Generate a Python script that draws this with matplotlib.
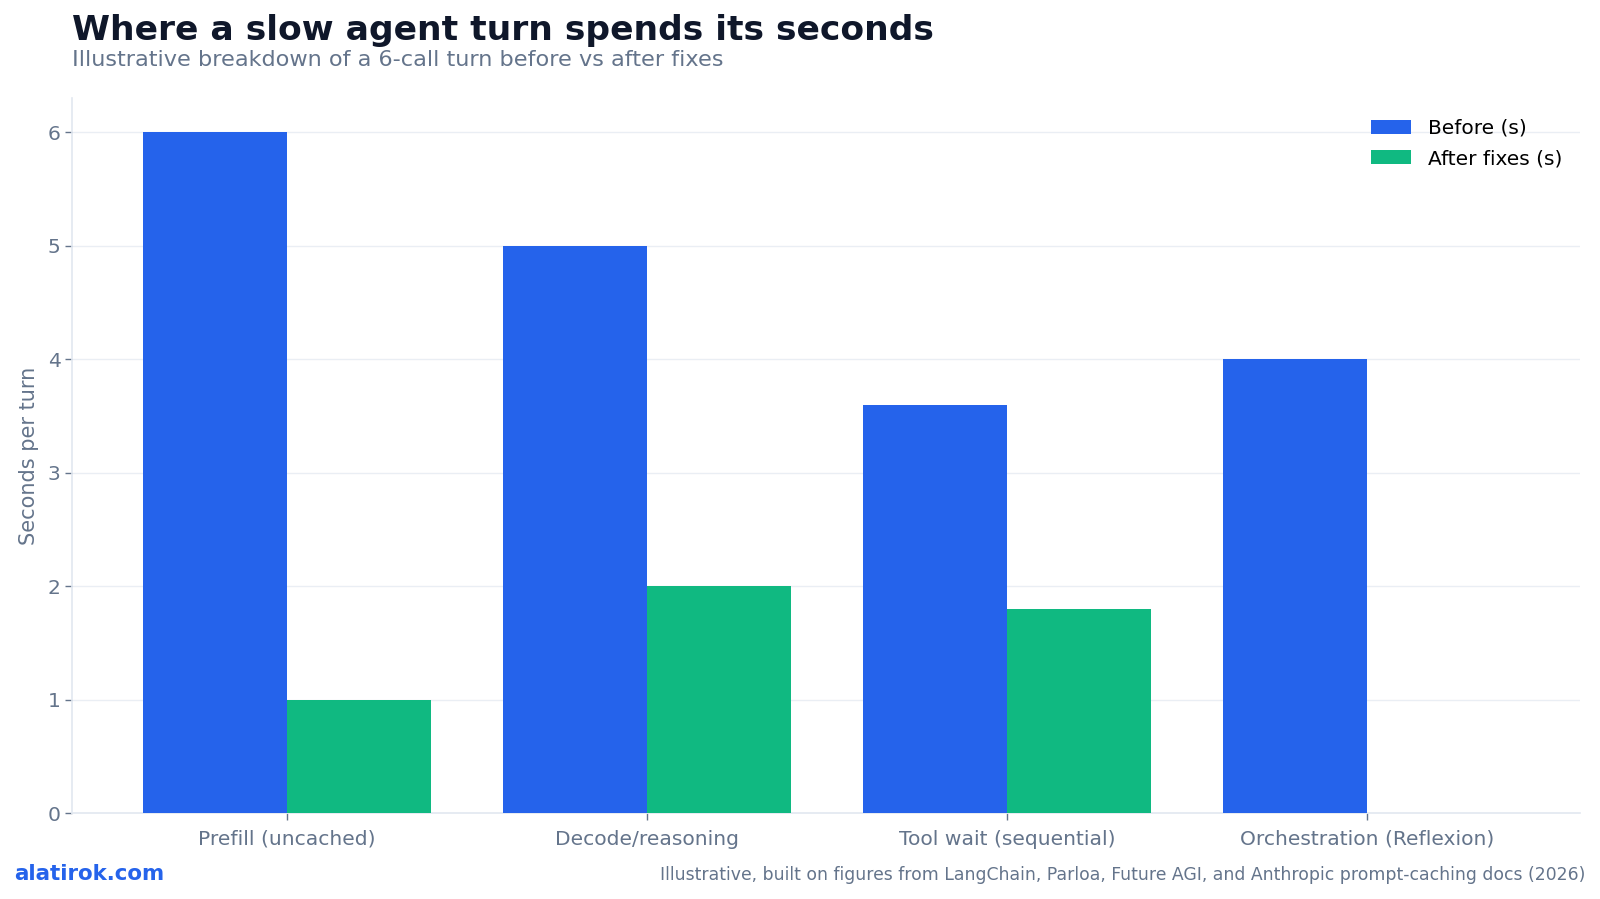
import matplotlib
matplotlib.use("Agg")
import matplotlib.pyplot as plt
import numpy as np

categories = ["Prefill (uncached)", "Decode/reasoning", "Tool wait (sequential)", "Orchestration (Reflexion)"]
before = [6.0, 5.0, 3.6, 4.0]
after = [1.0, 2.0, 1.8, 0.0]
series_names = ["Before (s)", "After fixes (s)"]
yticks = [0, 1, 2, 3, 4, 5, 6]

BLUE = "#2563eb"
GREEN = "#10b981"
SLATE = "#64748b"
DARK = "#0f172a"
GRID = "#e2e8f0"

fig = plt.figure(figsize=(16, 8.99), dpi=100)
ax = fig.add_axes([0.0453, 0.0953, 0.9422, 0.7957])

x = np.arange(len(categories))
w = 0.4
ax.bar(x - w / 2, before, width=w, color=BLUE, label=series_names[0], zorder=3)
ax.bar(x + w / 2, after, width=w, color=GREEN, label=series_names[1], zorder=3)

ax.set_xlim(-0.595, 3.59)
ax.set_ylim(0, 6.3)
ax.set_yticks(yticks)
ax.set_xticks(x)
ax.set_xticklabels(categories)
ax.grid(axis="y", color=GRID, linewidth=1, alpha=0.7, zorder=0)
ax.grid(axis="x", visible=False)
for s in ["top", "right"]:
    ax.spines[s].set_visible(False)
for s in ["left", "bottom"]:
    ax.spines[s].set_color(GRID)
    ax.spines[s].set_linewidth(1.2)
ax.tick_params(axis="both", colors=SLATE, labelsize=14.6, length=5, width=1)
ax.tick_params(axis="x", pad=7)
ax.set_ylabel("Seconds per turn", color=SLATE, fontsize=15, labelpad=6)

leg = ax.legend(loc="upper right", frameon=False, fontsize=14.5, labelspacing=0.55,
                handlelength=2.0, handleheight=0.75, bbox_to_anchor=(1.0, 0.996))

fig.text(0.0453, 0.966, "Where a slow agent turn spends its seconds",
         fontsize=24.8, fontweight="bold", color=DARK, va="center", ha="left")
fig.text(0.0453, 0.933, "Illustrative breakdown of a 6-call turn before vs after fixes",
         fontsize=16.1, color=SLATE, va="center", ha="left")
fig.text(0.009, 0.028, "alatirok.com", fontsize=15.4, fontweight="bold",
         color=BLUE, va="center", ha="left")
fig.text(0.991, 0.027,
         "Illustrative, built on figures from LangChain, Parloa, Future AGI, and Anthropic prompt-caching docs (2026)",
         fontsize=12.4, color=SLATE, va="center", ha="right")

fig.savefig("out.png", dpi=100, facecolor="white")
